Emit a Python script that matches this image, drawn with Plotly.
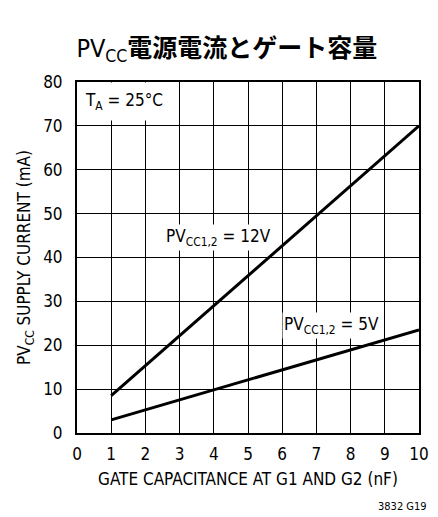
import plotly.graph_objects as go

# Gate capacitance (nF) and supply current (mA) for the two supply voltages
cap_nf = [1, 10]
current_12v = [8.5, 70]
current_5v = [3, 23.5]

x_ticks = list(range(0, 11))
y_ticks = list(range(0, 90, 10))

FONT = "DejaVu Sans Condensed, Liberation Sans Narrow, Roboto, sans-serif"

fig = go.Figure()
for ys in (current_12v, current_5v):
    fig.add_trace(go.Scatter(x=cap_nf, y=ys, mode="lines",
                             line=dict(color="black", width=3),
                             showlegend=False, hoverinfo="skip"))

fig.update_layout(
    width=438, height=517,
    margin=dict(l=77, r=9, t=82, b=84),
    paper_bgcolor="white", plot_bgcolor="white",
    font=dict(family=FONT, size=17, color="black"),
    title=dict(
        text="PV<sub>CC</sub><b><span style='font-family:Noto Sans CJK JP'>電源電流とゲート容量</span></b>",
        x=0.518, xanchor="center", y=0.907, yanchor="middle",
        font=dict(family=FONT, size=25, color="black"),
    ),
    xaxis=dict(range=[0, 10], tickvals=x_ticks, showgrid=True, gridcolor="black",
               gridwidth=1, showline=True, linecolor="black", linewidth=2, mirror=True,
               ticks="", zeroline=False, ticklabelstandoff=5,
               title=dict(text="GATE CAPACITANCE AT G1 AND G2 (nF)", standoff=10,
                          font=dict(size=17))),
    yaxis=dict(range=[0, 80], tickvals=y_ticks, showgrid=True, gridcolor="black",
               gridwidth=1, showline=True, linecolor="black", linewidth=2, mirror=True,
               ticks="", zeroline=False, ticklabelstandoff=9,
               title=dict(text="PV<sub>CC</sub> SUPPLY CURRENT (mA)", standoff=8,
                          font=dict(size=17))),
)

fig.add_annotation(x=0.0, y=1.0, xref="paper", yref="paper", xanchor="left",
                   yanchor="top", showarrow=False, bgcolor="white", borderpad=7,
                   text="T<sub>A</sub> = 25°C", font=dict(size=17))
fig.add_annotation(x=4.15, y=44.6, showarrow=False, bgcolor="white",
                   text="PV<sub>CC1,2</sub> = 12V", font=dict(size=17))
fig.add_annotation(x=7.45, y=24.4, showarrow=False, bgcolor="white",
                   text="PV<sub>CC1,2</sub> = 5V", font=dict(size=17))
fig.add_annotation(x=1.03, y=-0.208, xref="paper", yref="paper", xanchor="right",
                   yanchor="middle", showarrow=False, text="3832 G19",
                   font=dict(size=11))

fig.write_html("out.html")
